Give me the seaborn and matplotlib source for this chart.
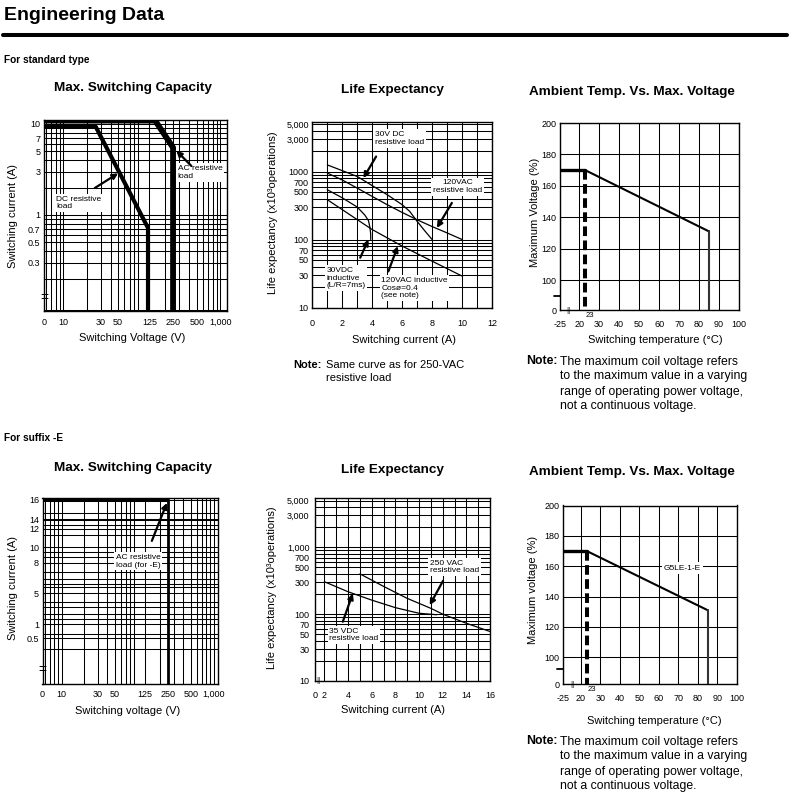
import numpy as np
import matplotlib
matplotlib.use("Agg")
import matplotlib.pyplot as plt
from matplotlib.lines import Line2D
from matplotlib.ticker import FixedLocator, NullFormatter, LogLocator
import seaborn as sns

# ---------------- data ----------------
# standard type: max switching capacity (V, A)
std_dc_volt = [5.7, 26, 120, 120]
std_dc_amp = [9.3, 9.3, 0.72, 0.088]
std_ac_volt = [5.7, 148, 250, 250]
std_ac_amp = [10.9, 10.9, 5.5, 0.088]

# standard type: life expectancy (A, x10^3 operations)
dc30_res_amp = [1, 2, 3, 4, 5, 6, 6.5, 7, 7.5, 8]
dc30_res_life = [1250, 1030, 845, 620, 456, 325, 260, 185, 135, 100]
ac120_res_amp = [1, 2, 3, 4, 5, 6, 7, 8, 9, 10]
ac120_res_life = [950, 750, 570, 430, 325, 250, 195, 155, 125, 100]
dc30_ind_amp = [1, 2, 3, 3.5, 3.75, 3.85, 3.9, 3.9]
dc30_ind_life = [540, 410, 300, 230, 190, 150, 120, 100]
ac120_ind_amp = [1, 2, 3, 4, 6, 8, 10]
ac120_ind_life = [385, 275, 196, 140, 80, 48, 29]

# standard type: ambient temp vs max voltage (degC, %)
std_temp = [10.4, 23, 85, 85]
std_volt_pct = [170, 170, 131, 81]
std_dash_temp = [23, 23]
std_dash_pct = [170, 81]

# suffix -E: max switching capacity
e_ac_volt = [5.6, 250, 250]
e_ac_amp = [16, 16, 0.05]

# suffix -E: life expectancy
dc35_res_amp = [2, 4, 6, 8, 10, 11.5]
dc35_res_life = [305, 216, 162, 125, 103, 98]
ac250_res_amp = [5, 7, 9, 11, 12, 14, 16]
ac250_res_life = [400, 260, 172, 122, 100, 73, 55]

# suffix -E: ambient temp vs max voltage
e_temp = [10.8, 23, 85, 85]
e_volt_pct = [170, 170, 131, 82.4]
e_dash_temp = [23, 23]
e_dash_pct = [170, 82.4]

# ---------------- style ----------------
sns.set_theme(style="white")
plt.rcParams['font.family'] = ['Liberation Sans', 'DejaVu Sans']
plt.rcParams['axes.edgecolor'] = 'black'
plt.rcParams['axes.linewidth'] = 1.0
plt.rcParams['text.color'] = 'black'
plt.rcParams['xtick.color'] = 'black'
plt.rcParams['ytick.color'] = 'black'

W, H = 790, 799
GRID_LW = 0.75
fig = plt.figure(figsize=(W / 100, H / 100), dpi=100)
fig.patch.set_facecolor('white')


def px(x, y):
    return x / W, 1 - y / H


def add_box(l, t, r, b):
    return fig.add_axes([l / W, 1 - b / H, (r - l) / W, (b - t) / H])


def ftext(x, y, s, **kw):
    kw.setdefault('ha', 'center')
    kw.setdefault('va', 'center')
    fig.text(*px(x, y), s, **kw)


def base_style(ax, xpad=4, ypad=2.5):
    ax.tick_params(which='both', length=0, labelsize=6.5, colors='black')
    ax.tick_params(axis='x', pad=xpad)
    ax.tick_params(axis='y', pad=ypad)
    for s in ax.spines.values():
        s.set_color('black')
        s.set_linewidth(1.0)
    ax.set_xlabel('')
    ax.set_ylabel('')
    ax.set_axisbelow(True)


def label_box(ax, x, y, s, ha='left'):
    ax.text(x, y, s, fontsize=6, ha=ha, va='center', linespacing=1.15, zorder=5,
            bbox=dict(facecolor='white', edgecolor='none', pad=1.2))


def arrow(ax, tail, tip):
    ax.annotate('', xy=tip, xytext=tail, zorder=6,
                arrowprops=dict(arrowstyle='-|>', color='black', lw=1.6,
                                mutation_scale=8, shrinkA=0, shrinkB=0))


def line(ax, x, y, lw, color='black', **kw):
    sns.lineplot(x=x, y=y, ax=ax, color=color, lw=lw, sort=False,
                 estimator=None, legend=False, zorder=3, **kw)


def interp_scale(ax, vals, pos):
    fwd = lambda v: np.interp(v, vals, pos)
    inv = lambda p: np.interp(p, pos, vals)
    ax.set_yscale('function', functions=(fwd, inv))
    return inv


# ---------------- header ----------------
ftext(4, 20.5, 'Engineering Data', ha='left', va='baseline', fontsize=14,
      fontweight='bold')
fig.add_artist(Line2D([3 / W, 787 / W], [1 - 35 / H, 1 - 35 / H], color='black',
                      lw=2.9, transform=fig.transFigure))
ftext(4, 60, 'For standard type', ha='left', fontsize=7.3, fontweight='bold')
ftext(4, 438, 'For suffix -E', ha='left', fontsize=7.3, fontweight='bold')

title_kw = dict(fontsize=9.7, fontweight='bold')
for y0 in (0, 380):
    ftext(133, 87.5 + y0, 'Max. Switching Capacity', **title_kw)
    ftext(392, 90 + y0, 'Life Expectancy', **title_kw)
    ftext(632, 91.5 + y0, 'Ambient Temp. Vs. Max. Voltage', **title_kw)

# ---------------- standard: max switching capacity ----------------
ax = add_box(44, 120, 227, 311)
ax.set_xscale('log')
ax.set_yscale('log')
line(ax, std_dc_volt, std_dc_amp, lw=3.0)
line(ax, std_ac_volt, std_ac_amp, lw=4.2)
ax.set_xlim(5.7, 1214)
ax.set_ylim(0.088, 11.06)
base_style(ax, xpad=5)
ax.xaxis.set_major_locator(FixedLocator([5.7, 10, 30, 50, 125, 250, 500, 1000]))
ax.set_xticklabels(['0', '10', '30', '50', '125', '250', '500', '1,000'])
ax.yaxis.set_major_locator(FixedLocator([0.3, 0.5, 0.7, 1, 3, 5, 7, 10]))
ax.set_yticklabels(['0.3', '0.5', '0.7', '1', '3', '5', '7', '10'])
ax.xaxis.set_minor_locator(LogLocator(subs=np.arange(2, 10)))
ax.yaxis.set_minor_locator(LogLocator(subs=np.arange(2, 10)))
ax.xaxis.set_minor_formatter(NullFormatter())
ax.yaxis.set_minor_formatter(NullFormatter())
ax.grid(True, which='both', color='black', lw=GRID_LW)
ax.text(0, 0.122, '=', transform=ax.get_yaxis_transform(), ha='center', va='center',
        fontsize=10, zorder=7)
label_box(ax, 8.2, 1.35, 'DC resistive\nload')
arrow(ax, (25.3, 1.98), (50, 2.87))
label_box(ax, 285, 2.93, 'AC resistive\nload')
arrow(ax, (428, 3.45), (275, 5.1))
ftext(132, 338, 'Switching Voltage (V)', fontsize=8)
ftext(13, 216, 'Switching current (A)', fontsize=8, rotation=90)

# ---------------- standard: life expectancy ----------------
ax = add_box(312.3, 121.7, 492, 307.5)
ax.set_yscale('log')
line(ax, dc30_res_amp, dc30_res_life, lw=0.9)
line(ax, ac120_res_amp, ac120_res_life, lw=0.9)
line(ax, dc30_ind_amp, dc30_ind_life, lw=0.9)
line(ax, ac120_ind_amp, ac120_ind_life, lw=0.9)
ax.set_xlim(0, 12)
ax.set_ylim(10, 5400)
base_style(ax, xpad=8)
ax.xaxis.set_major_locator(FixedLocator(np.arange(0, 13, 2)))
ax.xaxis.set_minor_locator(FixedLocator(np.arange(0, 13, 1)))
ax.yaxis.set_major_locator(FixedLocator([10, 30, 50, 70, 100, 300, 500, 700, 1000, 3000, 5000]))
ax.set_yticklabels(['10', '30', '50', '70', '100', '300', '500', '700', '1000', '3,000', '5,000'])
ax.yaxis.set_minor_locator(LogLocator(subs=np.arange(2, 10)))
ax.yaxis.set_minor_formatter(NullFormatter())
ax.grid(True, which='both', color='black', lw=GRID_LW)
label_box(ax, 4.19, 3060, '30V DC\nresistive load')
arrow(ax, (4.26, 1660), (3.41, 800))
label_box(ax, 9.71, 600, '120VAC\nresistive load', ha='center')
arrow(ax, (9.32, 345), (8.32, 148))
label_box(ax, 0.96, 27, '30VDC\ninductive\n(L/R=7ms)')
arrow(ax, (3.2, 54), (3.75, 100))
label_box(ax, 4.6, 19.3, '120VAC inductive\nCosø=0.4\n(see note)')
arrow(ax, (5.08, 34), (5.71, 80))
ftext(404, 340, 'Switching current (A)', fontsize=8)
ftext(273, 213, 'Life expectancy (x10³operations)', fontsize=8, rotation=90)
ftext(293, 365, 'Note:', ha='left', fontsize=8, fontweight='bold')
ftext(326.5, 365, 'Same curve as for 250-VAC', ha='left', fontsize=8)
ftext(326.5, 377.5, 'resistive load', ha='left', fontsize=8)


# ---------------- ambient temp helpers ----------------
def temp_chart(ax, temps, pcts, dash_t, dash_p, xmin, ymin, brk_y, brk_x):
    line(ax, temps[:2], pcts[:2], lw=2.4)
    line(ax, temps[1:3], pcts[1:3], lw=1.5)
    line(ax, temps[2:], pcts[2:], lw=1.5, color='#333333')
    line(ax, dash_t, dash_p, lw=2.9, linestyle=(0, (2.4, 1.1)))
    ax.set_xlim(xmin, 100)
    ax.set_ylim(ymin, 200)
    base_style(ax, xpad=7)
    ax.xaxis.set_major_locator(FixedLocator([xmin] + list(range(20, 101, 10))))
    ax.set_xticklabels(['-25'] + [str(v) for v in range(20, 101, 10)])
    ax.yaxis.set_major_locator(FixedLocator([ymin] + list(range(100, 201, 20))))
    ax.set_yticklabels(['0'] + [str(v) for v in range(100, 201, 20)])
    ax.grid(True, which='major', color='black', lw=GRID_LW)
    ax.text(25.5, -0.03, '23', transform=ax.get_xaxis_transform(), ha='center',
            va='center', fontsize=5.5)
    ax.text(brk_x, 0, '||', transform=ax.get_xaxis_transform(), ha='center',
            va='center', fontsize=6, zorder=7)
    ax.plot([-0.035, 0.0], [brk_y, brk_y], transform=ax.get_yaxis_transform(),
            color='black', lw=1.3, clip_on=False)


note_lines = ['The maximum coil voltage refers', 'to the maximum value in a varying',
              'range of operating power voltage,', 'not a continuous voltage.']

ax = add_box(560, 123, 739, 310)
temp_chart(ax, std_temp, std_volt_pct, std_dash_temp, std_dash_pct, 10.4, 81, 90, 14.5)
ftext(655, 340, 'Switching temperature (°C)', fontsize=8)
ftext(535, 212, 'Maximum Voltage (%)', fontsize=8, rotation=90)
ftext(526.5, 361.5, 'Note:', ha='left', fontsize=8.8, fontweight='bold')
for i, s in enumerate(note_lines):
    ftext(560.5, 361.5 + 15 * i, s, ha='left', fontsize=8.8)

# ---------------- suffix -E: max switching capacity ----------------
ax = add_box(42.5, 498, 218, 683.5)
ax.set_xscale('log')
bl_vals = [0.05, 0.5, 1, 5, 8, 10, 12, 14, 16, 16.3]
bl_pos = [683.5 - p for p in [683.5, 638.3, 624.3, 593.3, 562.7, 547.3, 529, 519.3, 500, 498]]
inv = interp_scale(ax, bl_vals, bl_pos)
line(ax, e_ac_volt[:2], e_ac_amp[:2], lw=2.2)
line(ax, e_ac_volt[1:], e_ac_amp[1:], lw=2.0)
ax.set_xlim(5.6, 1144)
ax.set_ylim(0.05, 16.3)
base_style(ax, xpad=4.5)
ax.xaxis.set_major_locator(FixedLocator([5.6, 10, 30, 50, 125, 250, 500, 1000]))
ax.set_xticklabels(['0', '10', '30', '50', '125', '250', '500', '1,000'])
ax.xaxis.set_minor_locator(LogLocator(subs=np.arange(2, 10)))
ax.xaxis.set_minor_formatter(NullFormatter())
ax.yaxis.set_major_locator(FixedLocator([0.5, 1, 5, 8, 10, 12, 14, 16]))
ax.set_yticklabels(['0.5', '1', '5', '8', '10', '12', '14', '16'])
grid_px = [512.7, 520.3, 525.3, 534.7, 552, 557, 572, 578.7, 583.7, 587, 602, 607,
           613.7, 618.7, 633.7, 648.7]
ax.yaxis.set_minor_locator(FixedLocator(inv(683.5 - np.array(grid_px))))
ax.yaxis.set_minor_formatter(NullFormatter())
ax.grid(True, which='both', color='black', lw=GRID_LW)
ax.text(0, inv(683.5 - 670), '=', transform=ax.get_yaxis_transform(), ha='center',
        va='center', fontsize=10, zorder=7)
label_box(ax, 102, 8.2, 'AC resistive\nload (for -E)', ha='center')
arrow(ax, (154, 10.7), (243, 15.7))
ftext(128, 711.5, 'Switching voltage (V)', fontsize=8)
ftext(13.5, 588, 'Switching current (A)', fontsize=8, rotation=90)

# ---------------- suffix -E: life expectancy ----------------
ax = add_box(315, 498.3, 490, 681)
ax.set_yscale('log')
line(ax, dc35_res_amp, dc35_res_life, lw=0.9)
line(ax, ac250_res_amp, ac250_res_life, lw=0.9)
ax.set_xlim(1.2, 16)
ax.set_ylim(10, 5400)
base_style(ax, xpad=7, ypad=4)
ax.xaxis.set_major_locator(FixedLocator([1.2] + list(range(2, 17, 2))))
ax.set_xticklabels(['0'] + [str(v) for v in range(2, 17, 2)])
ax.xaxis.set_minor_locator(FixedLocator(np.arange(2, 17, 1)))
ax.yaxis.set_major_locator(FixedLocator([10, 30, 50, 70, 100, 300, 500, 700, 1000, 3000, 5000]))
ax.set_yticklabels(['10', '30', '50', '70', '100', '300', '500', '700', '1,000', '3,000', '5,000'])
ax.yaxis.set_minor_locator(LogLocator(subs=np.arange(2, 10)))
ax.yaxis.set_minor_formatter(NullFormatter())
ax.grid(True, which='both', color='black', lw=GRID_LW)
ax.text(1.49, 0, '||', transform=ax.get_xaxis_transform(), ha='center', va='center',
        fontsize=6, zorder=7)
label_box(ax, 10.9, 509, '250 VAC\nresistive load')
arrow(ax, (12.03, 315), (10.9, 136))
label_box(ax, 2.42, 48.6, '35 VDC\nresistive load')
arrow(ax, (3.55, 77), (4.4, 204))
ftext(393, 710, 'Switching current (A)', fontsize=8)
ftext(272, 588, 'Life expectancy (x10³operations)', fontsize=8, rotation=90)

# ---------------- suffix -E: ambient temp ----------------
ax = add_box(563, 505.5, 737, 684)
temp_chart(ax, e_temp, e_volt_pct, e_dash_temp, e_dash_pct, 10.8, 82.4, 92.3, 15.5)
ax.text(72, 158.8, 'G5LE-1-E', fontsize=6, ha='center', va='center', zorder=5,
        bbox=dict(facecolor='white', edgecolor='none', pad=1.5))
ftext(654, 721.5, 'Switching temperature (°C)', fontsize=8)
ftext(533, 590, 'Maximum voltage (%)', fontsize=8, rotation=90)
ftext(526.5, 741.5, 'Note:', ha='left', fontsize=8.8, fontweight='bold')
for i, s in enumerate(note_lines):
    ftext(560.5, 741.5 + 15 * i, s, ha='left', fontsize=8.8)

fig.savefig('out.png', dpi=100, facecolor='white')
